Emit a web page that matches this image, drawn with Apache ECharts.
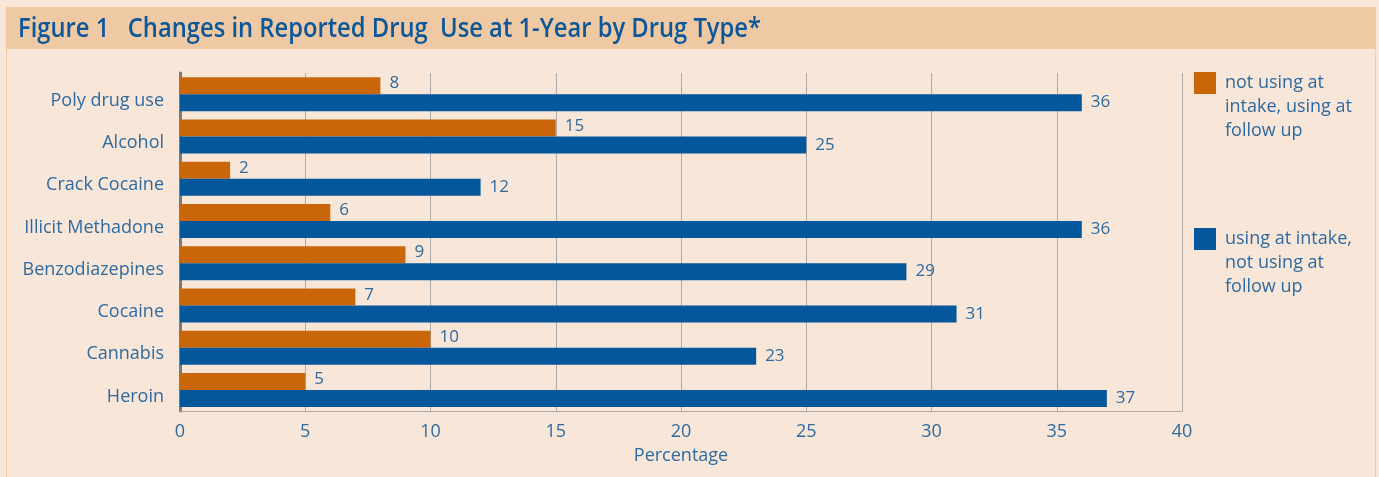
<!DOCTYPE html>
<html>
<head>
<meta charset="utf-8">
<script src="https://cdn.jsdelivr.net/npm/echarts@6/dist/echarts.min.js"></script>
<style>
html,body{margin:0;padding:0;background:#f8e7d8;}
#chart{width:1379px;height:477px;}
</style>
</head>
<body>
<div id="chart"></div>
<script>
var categories = ['Poly drug use','Alcohol','Crack Cocaine','Illicit Methadone','Benzodiazepines','Cocaine','Cannabis','Heroin'];
var seriesNames = ['not using at\nintake, using at\nfollow up','using at intake,\nnot using at\nfollow up'];
var notAtIntakeUsingFollowUp = [8,15,2,6,9,7,10,5];
var atIntakeNotFollowUp = [36,25,12,36,29,31,23,37];
var xTicks = [0,5,10,15,20,25,30,35,40];
var titleText = 'Figure 1   Changes in Reported Drug  Use at 1-Year by Drug Type*';

var FONT = '"Open Sans", "Noto Sans", sans-serif';
var TXT = '#2d6aa2';
var ORANGE = '#c9660a';
var BLUE = '#03579a';

var chart = echarts.init(document.getElementById('chart'), null, {renderer:'canvas'});
var legendText = {color: TXT, fontFamily: FONT, fontSize: 18, lineHeight: 24, padding:[0,0,0,4]};
function legendFmt(n){ return '\n\n' + n; }
chart.setOption({
  backgroundColor: '#f8e7d8',
  animation: false,
  textStyle: {fontFamily: FONT},
  graphic: [
    {type:'rect', shape:{x:6,y:7,width:1370,height:42}, style:{fill:'#eec9a3'}, z:-1},
    {type:'line', shape:{x1:6.5,y1:49,x2:6.5,y2:477}, style:{stroke:'#f0cba6', lineWidth:1}},
    {type:'line', shape:{x1:1375.5,y1:49,x2:1375.5,y2:477}, style:{stroke:'#f0cba6', lineWidth:1}},
    {type:'text', x:18, y:29, scaleX:0.88, style:{text:titleText, fill:'#0b5799', font:'600 27px ' + FONT, verticalAlign:'middle'}}
  ],
  legend: [
    {data:[seriesNames[0]], left:1189, top:18, orient:'vertical', itemWidth:22, itemHeight:22, icon:'rect', itemGap:0, formatter: legendFmt, textStyle: legendText, selectedMode:false},
    {data:[seriesNames[1]], left:1189, top:174, orient:'vertical', itemWidth:22, itemHeight:22, icon:'rect', itemGap:0, formatter: legendFmt, textStyle: legendText, selectedMode:false}
  ],
  grid: {left:180, right:197, top:73, bottom:66, containLabel:false},
  xAxis: {
    type:'value', min:xTicks[0], max:xTicks[xTicks.length-1], interval:5,
    name:'Percentage', nameLocation:'middle', nameGap:36,
    nameTextStyle:{color:TXT, fontSize:18, fontFamily:FONT},
    axisLine:{show:true, lineStyle:{color:'#aaaaaa', width:1}},
    axisTick:{show:false},
    axisLabel:{color:TXT, fontSize:18, fontFamily:FONT, margin:12},
    splitLine:{show:true, lineStyle:{color:'#aaaaaa', width:1}}
  },
  yAxis: {
    type:'category', data:categories, inverse:true,
    axisLine:{show:true, lineStyle:{color:'#7a7a7a', width:3}},
    axisTick:{show:false},
    axisLabel:{color:TXT, fontSize:18, fontFamily:FONT, margin:16, verticalAlign:'top', lineHeight:13}
  },
  series: [
    {name:seriesNames[0], type:'bar', data:notAtIntakeUsingFollowUp, barWidth:17, barGap:'0%',
     itemStyle:{color:ORANGE},
     label:{show:true, position:'right', distance:9, color:TXT, fontSize:17, fontFamily:FONT, offset:[0,-2]}},
    {name:seriesNames[1], type:'bar', data:atIntakeNotFollowUp, barWidth:17, barGap:'0%',
     itemStyle:{color:BLUE},
     label:{show:true, position:'right', distance:9, color:TXT, fontSize:17, fontFamily:FONT}}
  ]
});
</script>
</body>
</html>
